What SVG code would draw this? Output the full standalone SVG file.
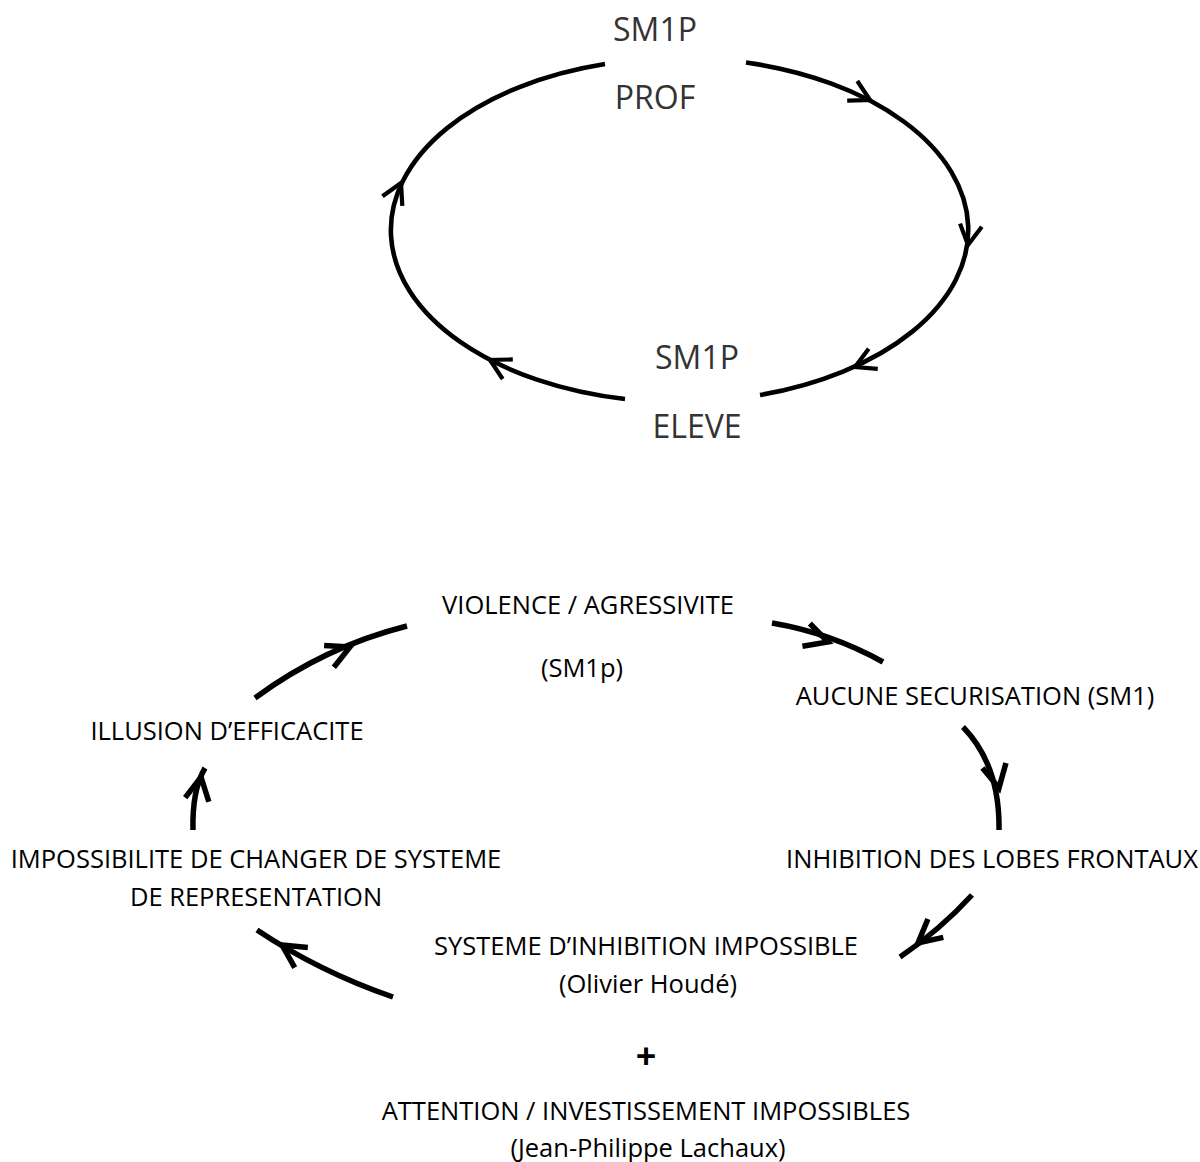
<svg xmlns="http://www.w3.org/2000/svg" width="1200" height="1162" viewBox="0 0 1200 1162">
<style>
.top{font-family:"Open Sans","Noto Sans",sans-serif;font-size:32px;fill:#333;text-anchor:middle}
.lbl{font-family:"Open Sans","Noto Sans",sans-serif;font-size:25.5px;fill:#000;text-anchor:middle}
.arcT{fill:none;stroke:#000;stroke-width:4.6}
.arcB{fill:none;stroke:#000;stroke-width:5.5}
</style>
<defs>
<path id="headT" d="M-20,-11 L0,0 L-20,11" fill="none" stroke="#000" stroke-width="4.2" stroke-linejoin="miter"/>
<path id="headB" d="M-23,-12 L0,0 L-23,12" fill="none" stroke="#000" stroke-width="5.5" stroke-linejoin="miter"/>
</defs>
<rect width="1200" height="1162" fill="#fff"/>
<g id="connectors">
<path class="arcT" d="M746,62.5 A289,172 0 0 1 760,395"/>
<path class="arcT" d="M625,399 A289,172 0 0 1 605,64"/>
<use href="#headT" transform="translate(870,100) rotate(27.4)"/>
<use href="#headT" transform="translate(968,245) rotate(98.4)"/>
<use href="#headT" transform="translate(855,367) rotate(155.7)"/>
<use href="#headT" transform="translate(490,360) rotate(207.4)"/>
<use href="#headT" transform="translate(401,183) rotate(-64.5)"/>
<path class="arcB" d="M255,698 Q324,647 407,626"/>
<use href="#headB" transform="translate(350,647) rotate(-24)"/>
<path class="arcB" d="M772,623 Q831,633 883,662"/>
<use href="#headB" transform="translate(828,642) rotate(18)"/>
<path class="arcB" d="M963,727 Q1000,765 999,830"/>
<use href="#headB" transform="translate(999,788) rotate(78)"/>
<path class="arcB" d="M972,895 Q940,930 900,957"/>
<use href="#headB" transform="translate(918,943) rotate(140)"/>
<path class="arcB" d="M393,997 Q320,972 257,930"/>
<use href="#headB" transform="translate(282,945) rotate(213)"/>
<path class="arcB" d="M193,830 Q192,790 205,768"/>
<use href="#headB" transform="translate(201,777) rotate(-80)"/>
</g>
<g id="prof"><text class="top" x="655" y="41">SM1P</text><text class="top" x="655" y="109">PROF</text></g>
<g id="eleve"><text class="top" x="697" y="369">SM1P</text><text class="top" x="697" y="438">ELEVE</text></g>
<g id="violence"><text class="lbl" x="588" y="614">VIOLENCE / AGRESSIVITE</text><text class="lbl" x="582" y="677">(SM1p)</text></g>
<g id="securisation"><text class="lbl" x="975" y="705">AUCUNE SECURISATION (SM1)</text></g>
<g id="inhibition-lobes"><text class="lbl" x="992" y="868">INHIBITION DES LOBES FRONTAUX</text></g>
<g id="systeme-inhibition"><text class="lbl" x="646" y="955">SYSTEME D’INHIBITION IMPOSSIBLE</text><text class="lbl" x="648" y="993">(Olivier Houdé)</text></g>
<g id="plus"><text x="646" y="1069" style="font-family:'Open Sans','Noto Sans',sans-serif;font-size:36px;font-weight:bold;text-anchor:middle">+</text></g>
<g id="attention"><text class="lbl" x="646" y="1120">ATTENTION / INVESTISSEMENT IMPOSSIBLES</text><text class="lbl" x="648" y="1157">(Jean-Philippe Lachaux)</text></g>
<g id="impossibilite"><text class="lbl" x="256" y="868">IMPOSSIBILITE DE CHANGER DE SYSTEME</text><text class="lbl" x="256" y="906">DE REPRESENTATION</text></g>
<g id="illusion"><text class="lbl" x="227" y="740">ILLUSION D’EFFICACITE</text></g>
</svg>
